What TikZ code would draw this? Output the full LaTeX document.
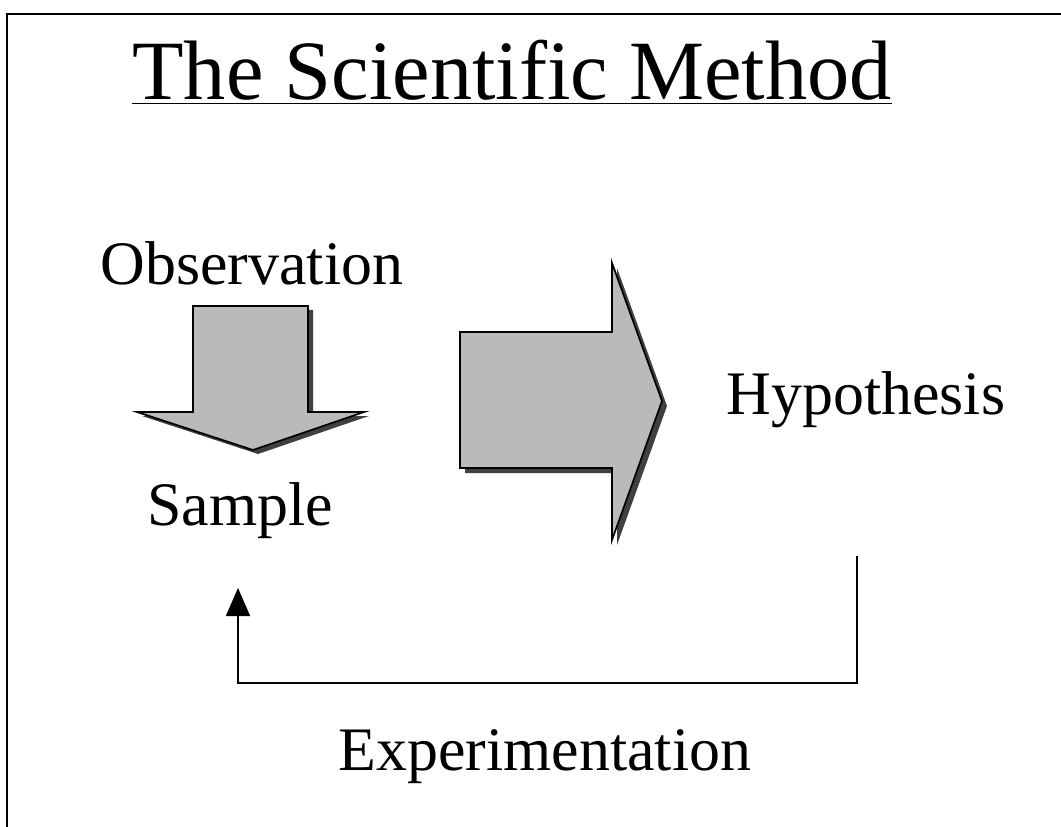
\documentclass[tikz,border=0pt]{standalone}
\usepackage{fontspec}
\setmainfont{Liberation Serif}
\usetikzlibrary{arrows.meta,positioning}
\tikzset{
  ttl/.style={font=\fontsize{60}{70}\selectfont, anchor=base, inner sep=0pt},
  lbl/.style={font=\fontsize{44}{52}\selectfont, anchor=base, inner sep=0pt},
  blkarr/.style={draw, line width=1.2pt, fill=black!27, line join=miter},
  shd/.style={fill=black!75, draw=none},
  fb/.style={line width=1.2pt, -{Triangle[length=7mm, width=6mm]}},
  frm/.style={line width=1.8pt},
}

\begin{document}
\begin{tikzpicture}[x=0.025cm, y=-0.025cm]
\useasboundingbox (0,0) rectangle (1061,827);

% frame (top and left only)
\draw[frm] (7,827) -- (7,14) -- (1061,14);

\node[ttl] (title) at (512,100) {\underline{The Scientific Method}};

\node[lbl] (obs) at (252,285) {Observation};
\node[lbl] (smp) at (240,525) {Sample};
\node[lbl] (hyp) at (866,414) {Hypothesis};
\node[lbl] (exp) at (545,770) {Experimentation};

% down arrow
\fill[shd, shift={(5,4)}] (193,306) -- (308,306) -- (308,412) -- (364,412)
  -- (253,450) -- (137,412) -- (193,412) -- cycle;
\draw[blkarr] (193,306) -- (308,306) -- (308,412) -- (364,412)
  -- (253,450) -- (137,412) -- (193,412) -- cycle;

% right arrow
\fill[shd, shift={(5,5)}] (460,332) -- (612,332) -- (612,263) -- (662,401)
  -- (612,540) -- (612,468) -- (460,468) -- cycle;
\draw[blkarr] (460,332) -- (612,332) -- (612,263) -- (662,401)
  -- (612,540) -- (612,468) -- (460,468) -- cycle;

% feedback loop
\coordinate (fbtop) at (857,556);
\coordinate (fbend) at (238,588);
\draw[fb] (fbtop) |- (238,683) -- (fbend);

\end{tikzpicture}
\end{document}
